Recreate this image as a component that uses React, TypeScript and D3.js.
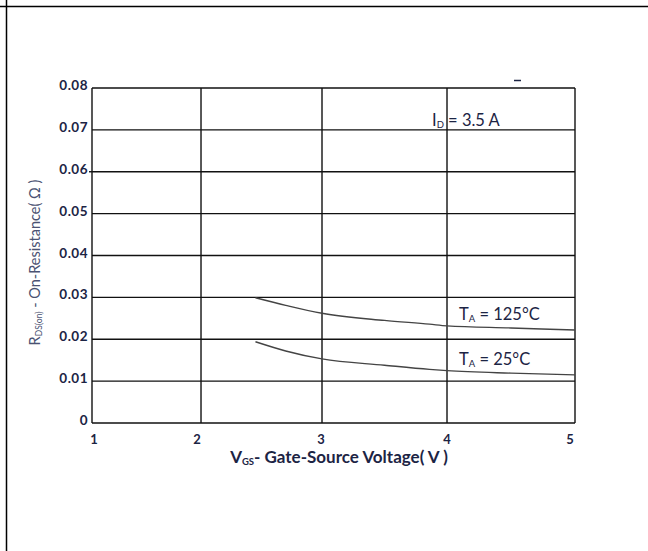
import React from "react";
import * as d3 from "d3";

// gate voltage (V) and on-resistance (ohm)
const vgs = [2.45, 2.7, 3, 3.5, 3.86, 4, 4.5, 5];
const rds125 = [0.0299, 0.0281, 0.0262, 0.0245, 0.0236, 0.0232, 0.0227, 0.0222];
const rds25 = [0.0194, 0.0172, 0.0153, 0.0138, 0.0128, 0.0125, 0.0119, 0.0115];

const xTicks = [1, 2, 3, 4, 5];
const yTicks = [0, 0.01, 0.02, 0.03, 0.04, 0.05, 0.06, 0.07, 0.08];
const yTickLabels = ["0", "0.01", "0.02", "0.03", "0.04", "0.05", "0.06", "0.07", "0.08"];

const W = 648;
const H = 551;
const left = 92;
const right = 575;
const top = 88;
const bottom = 423;
// the scanned grid is not evenly spaced along x
const xStops = [0, 0.2257, 0.4762, 0.735, 1];
// small nudges so the x tick labels sit where the scan has them
const xLabelShift = [2, -4, -1, 0, -5];

const labelColor = "#1c2444";
const font = "Lato, 'Open Sans', sans-serif";

export default function App() {
    const x = d3.scaleLinear()
        .domain(xTicks)
        .range(xStops.map(f => left + f * (right - left)));
    const y = d3.scaleLinear().domain([0, 0.08]).range([bottom, top]);

    const line = d3.line<[number, number]>()
        .x(d => x(d[0]))
        .y(d => y(d[1]))
        .curve(d3.curveMonotoneX);

    const hot = line(vgs.map((v, i) => [v, rds125[i]]));
    const cold = line(vgs.map((v, i) => [v, rds25[i]]));

    return (
        <svg width={W} height={H} style={{position: "absolute", left: 0, top: 0, background: "#fff"}}
            fontFamily={font}>
            {/* page frame */}
            <line x1={0} x2={W} y1={6.5} y2={6.5} stroke="#000" strokeWidth={1.5} />
            <line x1={6.5} x2={6.5} y1={0} y2={H} stroke="#000" strokeWidth={1.5} />

            {/* grid */}
            <g stroke="#111" strokeWidth={1.4}>
                {yTicks.map(t => (
                    <line key={"h" + t} x1={x(1)} x2={x(5)} y1={y(t)} y2={y(t)} />
                ))}
                {xTicks.map(t => (
                    <line key={"v" + t} x1={x(t)} x2={x(t)} y1={y(0.08)} y2={y(0)} />
                ))}
                <line x1={x(1) - 3} x2={x(1)} y1={y(0.06)} y2={y(0.06)} />
            </g>

            {/* curves */}
            <path d={hot || ""} fill="none" stroke="#444" strokeWidth={1.4} />
            <path d={cold || ""} fill="none" stroke="#444" strokeWidth={1.4} />

            {/* y tick labels */}
            <g fill={labelColor} fontSize={13.5} fontWeight="bold" textAnchor="end" letterSpacing={0.5}>
                {yTicks.map((t, i) => (
                    <text key={"yl" + t} x={x(1) - 4} y={y(t) + 2}>{yTickLabels[i]}</text>
                ))}
            </g>

            {/* x tick labels */}
            <g fill={labelColor} fontSize={13} fontWeight="bold" textAnchor="middle">
                {xTicks.map((t, i) => (
                    <text key={"xl" + t} x={x(t) + xLabelShift[i]} y={bottom + 21}>{t}</text>
                ))}
            </g>

            {/* x axis title */}
            <text x={339} y={bottom + 40} fill={labelColor} fontSize={17} fontWeight="bold" textAnchor="middle">
                V<tspan fontSize={9.5} dy={2}>GS</tspan><tspan dy={-2}>- Gate-Source Voltage( V )</tspan>
            </text>

            {/* y axis title */}
            <text transform={`translate(40,${(top + bottom) / 2 + 7}) rotate(-90)`} fill="#4a5272"
                fontSize={14.5} textAnchor="middle">
                R<tspan fontSize={8.5} dy={2}>DS(on)</tspan><tspan dy={-2}> - On-Resistance( Ω )</tspan>
            </text>

            {/* annotations */}
            <g fill={labelColor} fontSize={16.5}>
                <text x={432} y={y(0.07) - 4}>
                    I<tspan fontSize={9.5} dy={2}>D</tspan><tspan dy={-2}> = 3.5 A</tspan>
                </text>
                <text x={459} y={y(0.03) + 23}>
                    T<tspan fontSize={9.5} dy={2}>A</tspan><tspan dy={-2}> = 125°C</tspan>
                </text>
                <text x={459} y={y(0.02) + 26}>
                    T<tspan fontSize={9.5} dy={2}>A</tspan><tspan dy={-2}> = 25°C</tspan>
                </text>
            </g>

            {/* stray mark from the scan */}
            <line x1={514} x2={521} y1={80.5} y2={80.5} stroke="#1c2444" strokeWidth={1.5} />
        </svg>
    );
}
